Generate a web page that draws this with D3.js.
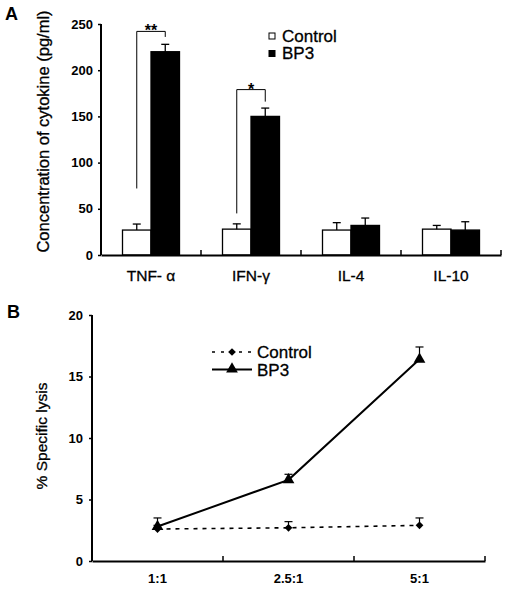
<!DOCTYPE html>
<html><head><meta charset="utf-8">
<script src="https://cdn.jsdelivr.net/npm/d3@7"></script>
<style>
body{margin:0;background:#fff;}
svg{display:block;font-family:"Liberation Sans",Arial,sans-serif;}
</style></head>
<body>
<svg id="chart" width="507" height="592"></svg>
<script>
// ---------- Panel A data ----------
const categories = ["TNF- α", "IFN-γ", "IL-4", "IL-10"];
const controlValues = [27, 28, 27, 28];
const controlErrors = [6.5, 5.7, 8, 4];
const bp3Values = [220, 150, 32, 27];
const bp3Errors = [8, 9, 8, 9];
const yTicksA = [0, 50, 100, 150, 200, 250];
const sigCategories = ["TNF- α", "IFN-γ"];
const sigStart = [72, 45];     // bottom of left leg (value)
const sigTop = [242, 179];     // bracket top (value)
const sigEnd = [236, 166];     // bottom of right leg (value)
const sigLabels = ["**", "*"];
const seriesNames = ["Control", "BP3"];

// ---------- Panel B data ----------
const ratios = ["1:1", "2.5:1", "5:1"];
const lysisControl = [2.6, 2.7, 2.9];
const lysisControlErr = [0.3, 0.5, 0.6];
const lysisBP3 = [2.8, 6.6, 16.4];
const lysisBP3Err = [0.7, 0.45, 1.0];
const yTicksB = [0, 5, 10, 15, 20];

const FONT = "Liberation Sans, Arial, sans-serif";
const svg = d3.select("#chart");

// ================= PANEL A =================
const xA = d3.scaleBand().domain(categories).range([101, 501]);
const yA = d3.scaleLinear().domain([0, 250]).range([255, 24]);
const barW = 28.5;
const gA = svg.append("g");

const rows = categories.map((c, i) => ({c, cv: controlValues[i], ce: controlErrors[i], bv: bp3Values[i], be: bp3Errors[i]}));
rows.forEach(r => {
  const cx = xA(r.c) + xA.bandwidth() / 2;
  gA.append("rect").attr("x", cx - barW).attr("y", yA(r.cv)).attr("width", barW)
    .attr("height", yA(0) - yA(r.cv)).attr("fill", "#fff").attr("stroke", "#000").attr("stroke-width", 1.3);
  gA.append("line").attr("x1", cx - barW / 2).attr("x2", cx - barW / 2).attr("y1", yA(r.cv)).attr("y2", yA(r.cv + r.ce)).attr("stroke", "#000").attr("stroke-width", 1.3);
  gA.append("line").attr("x1", cx - barW / 2 - 4).attr("x2", cx - barW / 2 + 4).attr("y1", yA(r.cv + r.ce)).attr("y2", yA(r.cv + r.ce)).attr("stroke", "#000").attr("stroke-width", 1.3);
  gA.append("rect").attr("x", cx).attr("y", yA(r.bv)).attr("width", barW)
    .attr("height", yA(0) - yA(r.bv)).attr("fill", "#000").attr("stroke", "#000").attr("stroke-width", 1.3);
  gA.append("line").attr("x1", cx + barW / 2).attr("x2", cx + barW / 2).attr("y1", yA(r.bv)).attr("y2", yA(r.bv + r.be)).attr("stroke", "#000").attr("stroke-width", 1.3);
  gA.append("line").attr("x1", cx + barW / 2 - 4).attr("x2", cx + barW / 2 + 4).attr("y1", yA(r.bv + r.be)).attr("y2", yA(r.bv + r.be)).attr("stroke", "#000").attr("stroke-width", 1.3);
});

// significance brackets
sigCategories.forEach((c, i) => {
  const cx = xA(c) + xA.bandwidth() / 2;
  const xl = cx - barW / 2, xr = cx + barW / 2;
  gA.append("path")
    .attr("d", `M${xl},${yA(sigStart[i])}V${yA(sigTop[i])}H${xr}V${yA(sigEnd[i])}`)
    .attr("fill", "none").attr("stroke", "#000").attr("stroke-width", 1);
  gA.append("text").attr("x", (xl + xr) / 2).attr("y", yA(sigTop[i]) + 5)
    .attr("text-anchor", "middle").attr("font-size", 16).attr("font-weight", "bold").text(sigLabels[i]);
});

// y axis A
const yAxisA = gA.append("g").attr("transform", `translate(${xA.range()[0]},0)`)
  .call(d3.axisLeft(yA).tickValues(yTicksA).tickSize(3).tickPadding(5));
yAxisA.select(".domain").attr("stroke-width", 2).attr("d", `M0,${yA(250)}V${yA(0)}`);
yAxisA.selectAll(".tick line").attr("stroke-width", 1.5);
yAxisA.selectAll("text").attr("font-size", 13).attr("font-weight", "bold").attr("font-family", FONT);

// x axis A
const xAxisA = gA.append("g").attr("transform", `translate(0,${yA(0)})`)
  .call(d3.axisBottom(xA).tickSize(0).tickPadding(15));
xAxisA.select(".domain").attr("stroke-width", 2);
xAxisA.selectAll("text").attr("font-size", 15.5).attr("font-family", FONT)
  .attr("stroke", "#000").attr("stroke-width", 0.3);
categories.forEach(c => {
  gA.append("line").attr("x1", xA(c) + xA.bandwidth()).attr("x2", xA(c) + xA.bandwidth())
    .attr("y1", yA(0)).attr("y2", yA(0) - 5).attr("stroke", "#000").attr("stroke-width", 1.5);
});

// y title A
gA.append("text").attr("transform", `translate(49,${(yA(0) + yA(250)) / 2 - 8}) rotate(-90)`)
  .attr("text-anchor", "middle").attr("font-size", 16.5).attr("stroke", "#000").attr("stroke-width", 0.3)
  .text("Concentration of cytokine (pg/ml)");

// legend A
const legFills = ["#fff", "#000"];
seriesNames.forEach((n, i) => {
  gA.append("rect").attr("x", 269).attr("y", 33 + i * 17.5).attr("width", 6).attr("height", 6)
    .attr("fill", legFills[i]).attr("stroke", "#000").attr("stroke-width", 1);
  gA.append("text").attr("x", 282).attr("y", 41.5 + i * 17.5).attr("font-size", 17)
    .attr("stroke", "#000").attr("stroke-width", 0.3).text(n);
});

svg.append("text").attr("x", 5).attr("y", 20).attr("font-size", 18).attr("font-weight", "bold").text("A");

// ================= PANEL B =================
const xB = d3.scaleBand().domain(ratios).range([92, 485]);
const yB = d3.scaleLinear().domain([0, 20]).range([561, 315]);
const gB = svg.append("g");
const cxB = r => xB(r) + xB.bandwidth() / 2;

const yAxisB = gB.append("g").attr("transform", `translate(${xB.range()[0]},0)`)
  .call(d3.axisLeft(yB).tickValues(yTicksB).tickSize(3).tickPadding(6));
yAxisB.select(".domain").attr("stroke-width", 2).attr("d", `M0,${yB(20)}V${yB(0)}`);
yAxisB.selectAll(".tick line").attr("stroke-width", 1.5);
yAxisB.selectAll("text").attr("font-size", 13).attr("font-weight", "bold").attr("font-family", FONT);

const xAxisB = gB.append("g").attr("transform", `translate(0,${yB(0)})`)
  .call(d3.axisBottom(xB).tickSize(0).tickPadding(13));
xAxisB.select(".domain").attr("stroke-width", 2);
xAxisB.selectAll("text").attr("font-size", 13).attr("font-weight", "bold").attr("font-family", FONT);
ratios.forEach(r => {
  gB.append("line").attr("x1", xB(r) + xB.bandwidth()).attr("x2", xB(r) + xB.bandwidth())
    .attr("y1", yB(0)).attr("y2", yB(0) - 5).attr("stroke", "#000").attr("stroke-width", 1.5);
});

const line = d3.line().x(d => cxB(d.r)).y(d => yB(d.v));
const ctrlPts = ratios.map((r, i) => ({r, v: lysisControl[i], e: lysisControlErr[i]}));
const bp3Pts = ratios.map((r, i) => ({r, v: lysisBP3[i], e: lysisBP3Err[i]}));

gB.append("path").datum(ctrlPts).attr("d", line).attr("fill", "none").attr("stroke", "#000")
  .attr("stroke-width", 1.6).attr("stroke-dasharray", "4,5");
gB.append("path").datum(bp3Pts).attr("d", line).attr("fill", "none").attr("stroke", "#000")
  .attr("stroke-width", 2);

[ctrlPts, bp3Pts].forEach(pts => {
  pts.forEach(d => {
    const x = cxB(d.r);
    gB.append("line").attr("x1", x).attr("x2", x).attr("y1", yB(d.v)).attr("y2", yB(d.v + d.e)).attr("stroke", "#000").attr("stroke-width", 1.2);
    gB.append("line").attr("x1", x - 4).attr("x2", x + 4).attr("y1", yB(d.v + d.e)).attr("y2", yB(d.v + d.e)).attr("stroke", "#000").attr("stroke-width", 1.2);
  });
});

const diamond = d3.symbol().type(d3.symbolSquare).size(30);
const triangle = d3.symbol().type(d3.symbolTriangle).size(60);
ctrlPts.forEach(d => {
  gB.append("path").attr("d", diamond).attr("transform", `translate(${cxB(d.r)},${yB(d.v)}) rotate(45)`).attr("fill", "#000");
});
bp3Pts.forEach(d => {
  gB.append("path").attr("d", triangle).attr("transform", `translate(${cxB(d.r)},${yB(d.v)})`).attr("fill", "#000");
});

// legend B
gB.append("line").attr("x1", 212).attr("x2", 252).attr("y1", 352).attr("y2", 352)
  .attr("stroke", "#000").attr("stroke-width", 1.6).attr("stroke-dasharray", "3,6");
gB.append("path").attr("d", diamond).attr("transform", "translate(232,352) rotate(45)").attr("fill", "#000");
gB.append("text").attr("x", 257).attr("y", 357.5).attr("font-size", 17)
  .attr("stroke", "#000").attr("stroke-width", 0.3).text(seriesNames[0]);
gB.append("line").attr("x1", 212).attr("x2", 252).attr("y1", 369.5).attr("y2", 369.5)
  .attr("stroke", "#000").attr("stroke-width", 2);
gB.append("path").attr("d", triangle).attr("transform", "translate(232,369)").attr("fill", "#000");
gB.append("text").attr("x", 257).attr("y", 375.5).attr("font-size", 17)
  .attr("stroke", "#000").attr("stroke-width", 0.3).text(seriesNames[1]);

gB.append("text").attr("transform", `translate(47,436) rotate(-90)`)
  .attr("text-anchor", "middle").attr("font-size", 15.5).attr("stroke", "#000").attr("stroke-width", 0.3)
  .text("% Specific lysis");

svg.append("text").attr("x", 7).attr("y", 318).attr("font-size", 18).attr("font-weight", "bold").text("B");
</script>
</body></html>
